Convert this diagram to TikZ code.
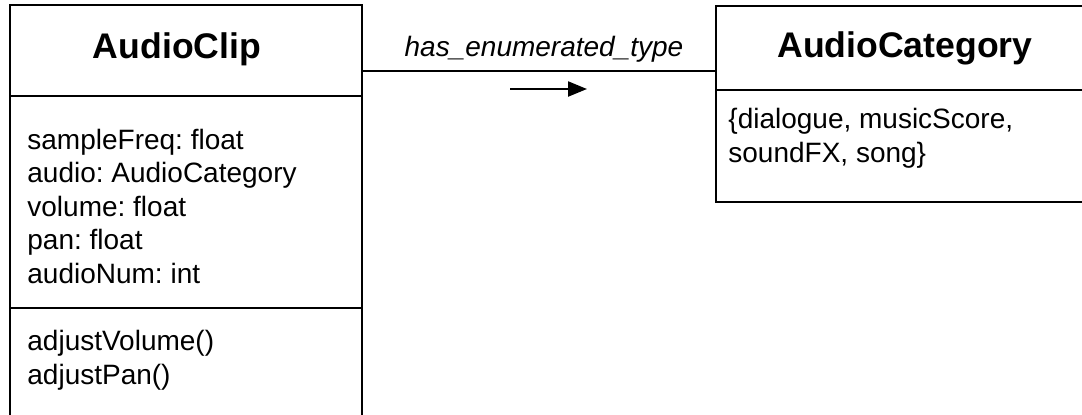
\documentclass[tikz,border=0pt]{standalone}
\usepackage{fontspec}
\setmainfont{Liberation Sans}
\usetikzlibrary{arrows.meta}
\frenchspacing

% one drawing unit = 0.5pt; node sizes below are given in pt (half the unit count)
\tikzset{
  compartment/.style={draw, line width=1.25pt, minimum width=#1, inner sep=0pt},
  classtitle/.style={font=\fontsize{17.8pt}{20pt}\selectfont\bfseries, inner sep=0pt, anchor=base},
  member/.style={font=\fontsize{14pt}{16.75pt}\selectfont, align=left, inner sep=0pt, anchor=base west},
  rolelabel/.style={font=\fontsize{14pt}{16.75pt}\selectfont\itshape, inner sep=0pt, anchor=base},
  link/.style={line width=1.25pt},
  dirarrow/.style={line width=1.1pt, -{Triangle[length=9.5pt,width=7.5pt]}}
}

\begin{document}
\begin{tikzpicture}[x=0.5pt, y=-0.5pt]
  % page frame, 1082 x 414 units
  \clip (0,0) rectangle (1082,414);
  \fill[white] (0,0) rectangle (1082,414);

  % class AudioClip (box runs on past the lower edge)
  \node[compartment=176pt, minimum height=45.5pt] (clipHead) at (186,50.5) {};
  \node[compartment=176pt, minimum height=106pt] (clipAttr) at (186,202) {};
  \node[compartment=176pt, minimum height=70pt] (clipOps) at (186,378) {};
  \node[classtitle] (clipName) at (177,58) {AudioClip};
  % multi-line members are placed by the baseline of their last line
  \node[member] (clipAttrText) at (27,283) {sampleFreq: float\\audio: AudioCategory\\volume: float\\pan: float\\audioNum: int};
  \node[member] (clipOpsText) at (27,384) {adjustVolume()\\adjustPan()};

  % enumeration AudioCategory (box runs on past the right edge)
  \node[compartment=200pt, minimum height=42pt] (catHead) at (916,48) {};
  \node[compartment=200pt, minimum height=56pt] (catBody) at (916,146) {};
  \node[classtitle] (catName) at (905,57) {AudioCategory};
  \node[member] (catBodyText) at (728,162) {\{dialogue, musicScore,\\soundFX, song\}};

  % association between the two classes
  \coordinate (linkY) at (0,71);
  \draw[link] (clipHead.east |- linkY) -- (catHead.west |- linkY);
  \node[rolelabel] (assocName) at (544,56) {has\_enumerated\_type};
  \coordinate (dirStart) at (510,89);
  \coordinate (dirEnd) at (587,89);
  \draw[dirarrow] (dirStart) -- (dirEnd);
\end{tikzpicture}
\end{document}
